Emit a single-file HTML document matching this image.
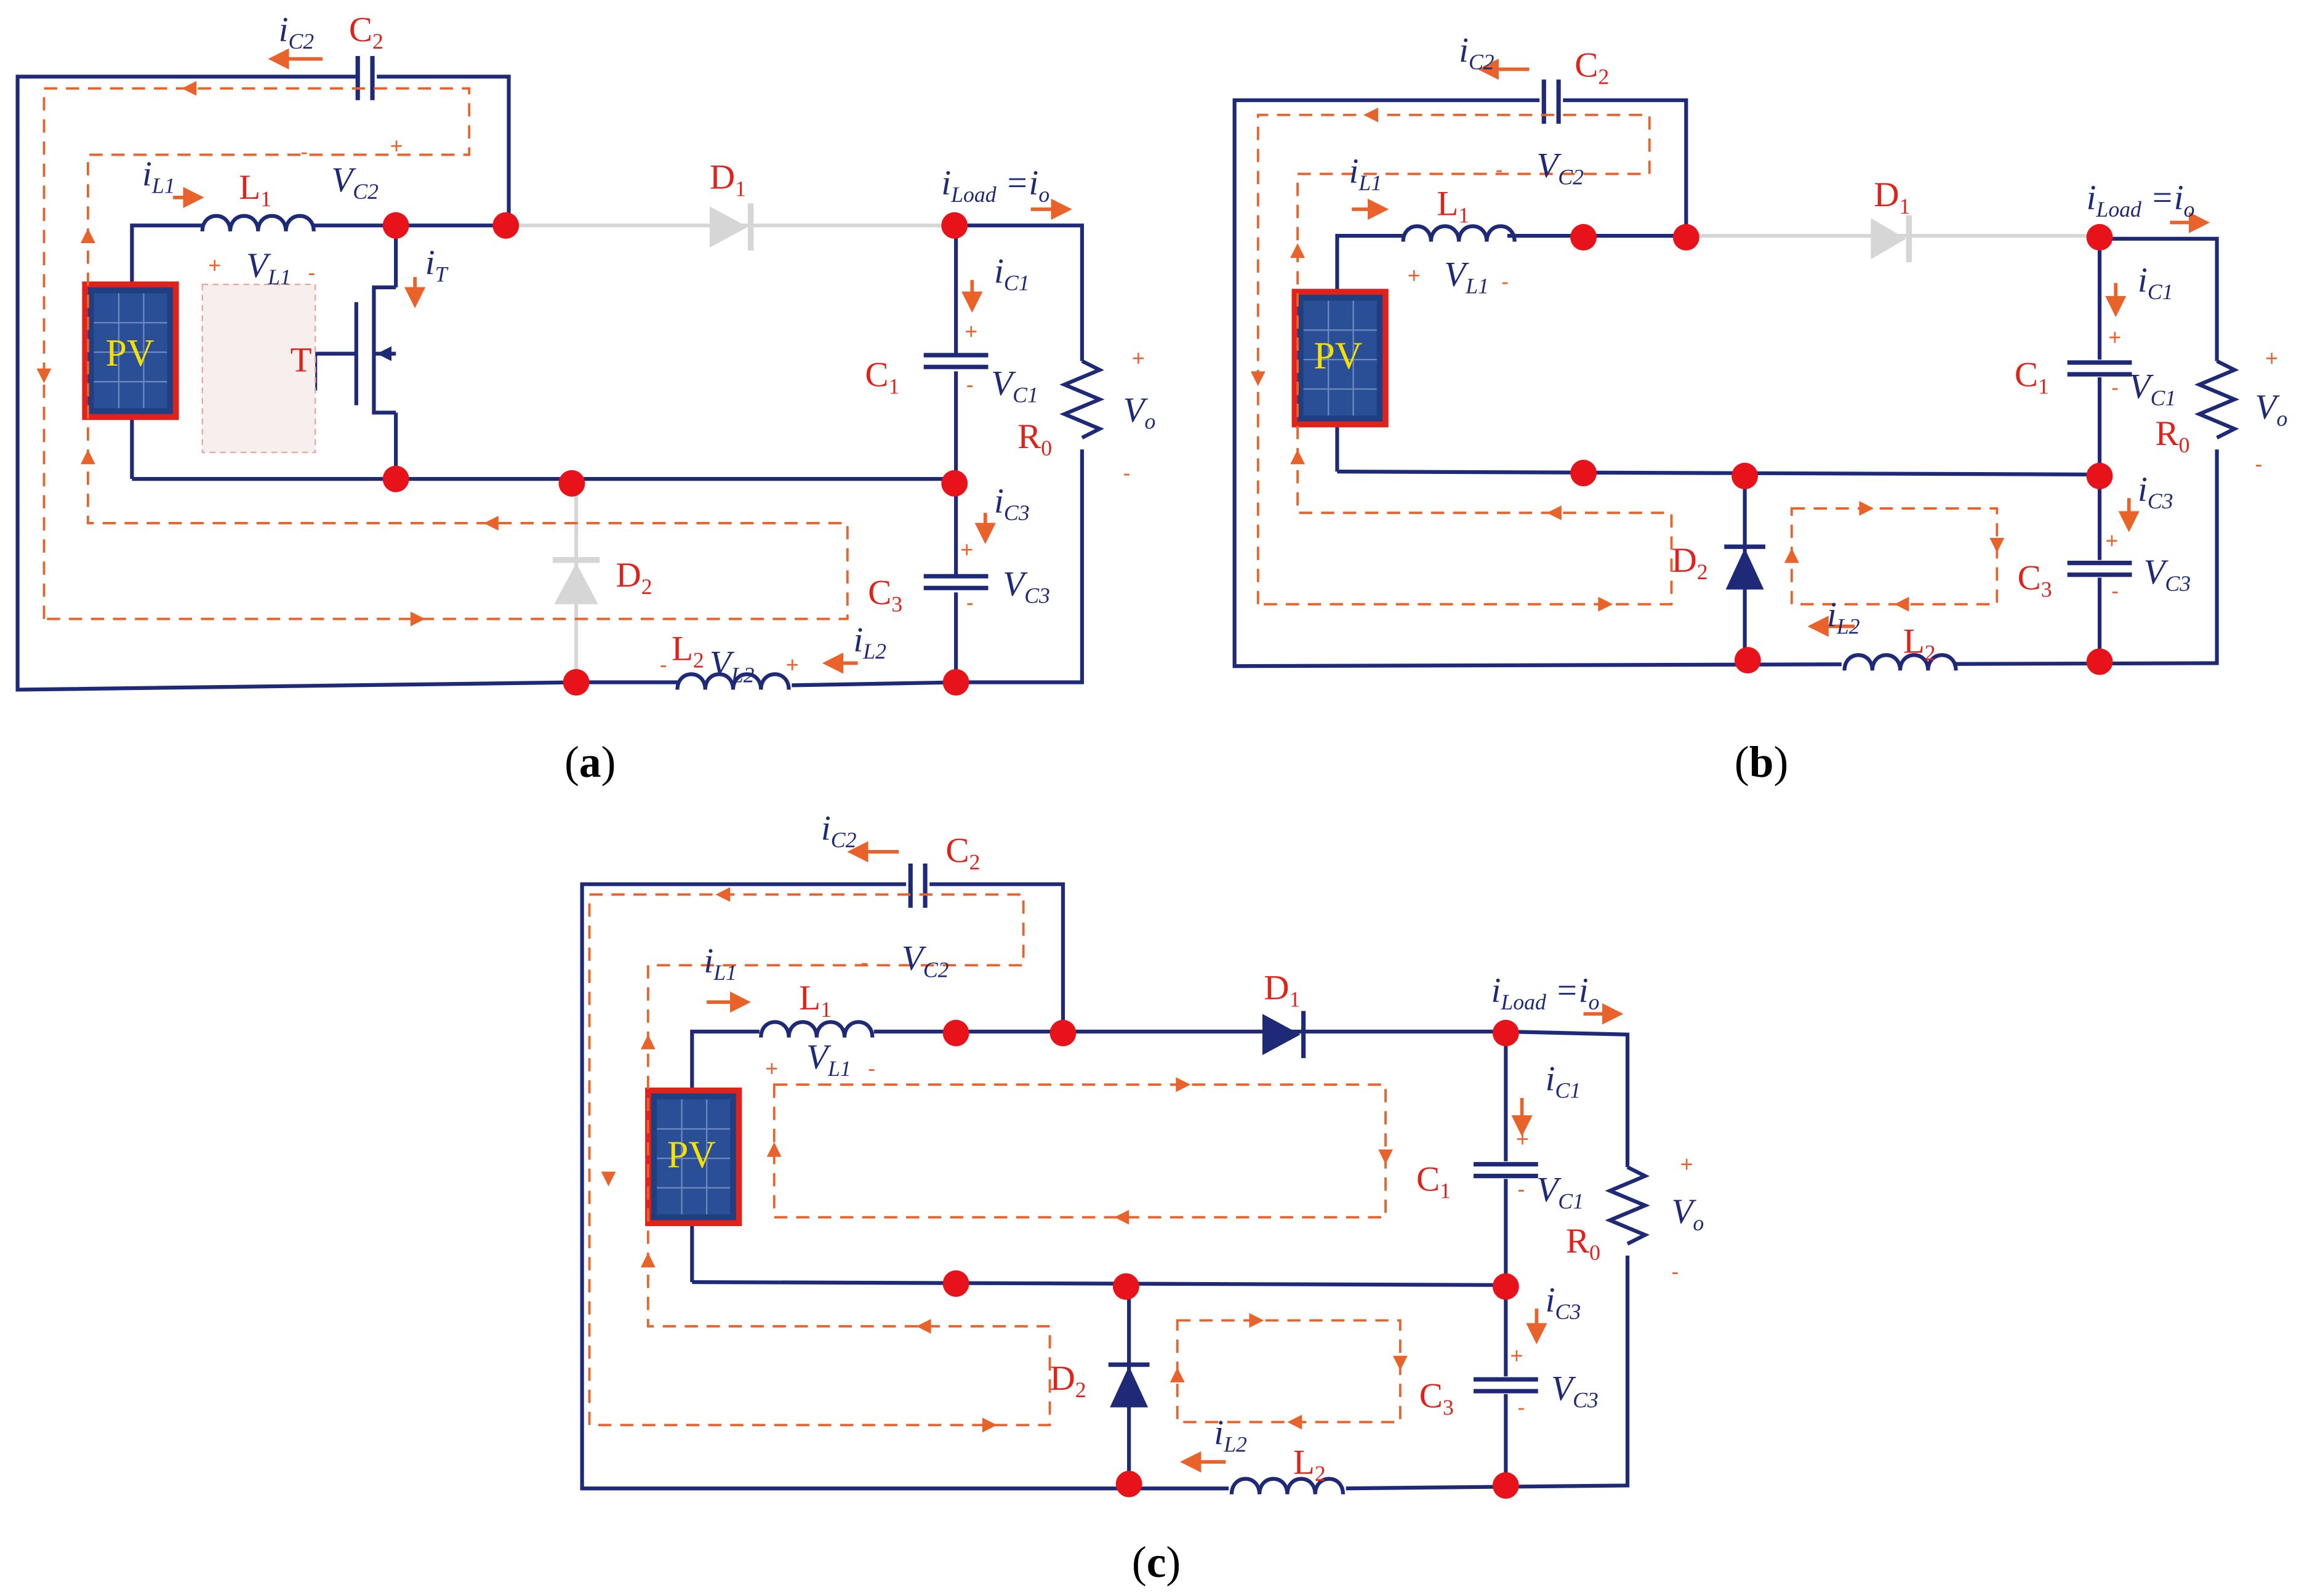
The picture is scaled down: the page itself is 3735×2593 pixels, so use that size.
<!DOCTYPE html>
<html><head><meta charset="utf-8"><style>
html,body{margin:0;padding:0;background:#fff}
svg{display:block}
.w{stroke:#1e2a78;stroke-width:2.6;fill:none}
.g{stroke:#d6d6d6;stroke-width:2.6;fill:none}
.d{stroke:#e8622a;stroke-width:1.6;fill:none;stroke-dasharray:9,6}
.oa{stroke:#e8622a;stroke-width:2.4;fill:none;marker-end:url(#mh)}
.r{fill:#e3211b;font-family:"Liberation Serif",serif;font-size:24px}
.v{fill:#1e2a78;font-family:"Liberation Serif",serif;font-size:24px;font-style:italic}
.s{fill:#e8622a;font-family:"Liberation Sans",sans-serif;font-size:15px}
.cap{fill:#000;font-family:"Liberation Serif",serif;font-size:30px}
</style></head><body>
<svg width="3735" height="2593" viewBox="0 0 1568 1083" preserveAspectRatio="none" xmlns="http://www.w3.org/2000/svg">
<defs>
<marker id="mh" markerWidth="6" markerHeight="6" refX="3" refY="3" orient="auto" markerUnits="strokeWidth"><path d="M0,0 L6,3 L0,6 z" fill="#e8622a"/></marker>
<g id="ind"><path d="M0,0 c0,-14 19,-14 19,0 c0,-14 19,-14 19,0 c0,-14 19,-14 19,0 c0,-14 19,-14 19,0" stroke="#1e2a78" stroke-width="2.6" fill="none"/></g>
<g id="capv"><line x1="-22" y1="-4" x2="22" y2="-4" stroke="#1e2a78" stroke-width="3"/><line x1="-22" y1="4" x2="22" y2="4" stroke="#1e2a78" stroke-width="3"/></g>
<g id="res"><path d="M0,-30 l12,6 l-24,10 l24,10 l-24,10 l24,10 l-12,6" stroke="#1e2a78" stroke-width="2.6" fill="none" transform="translate(0,-2)"/></g>
<g id="pv"><rect x="0" y="0" width="62" height="90" fill="#1f3f80" stroke="#e3211b" stroke-width="4"/><rect x="6" y="6" width="50" height="78" fill="#2a4f96"/><path d="M6,26 h50 M6,46 h50 M6,66 h50 M23,6 v78 M40,6 v78" stroke="#6b86c0" stroke-width="1"/></g>
<g id="dot"><circle r="9" fill="#e8131a"/></g>
<g id="arr"><path d="M0,0 l-10,-5 v10 z" fill="#e8622a"/></g>
</defs>

<!-- ===== (a) ===== -->
<path class="w" d="M347,153 V52 H12 V468 L393,463"/>
<path class="w" d="M540,465 L652,463 H738 V153 H652 M393,463 H462"/>
<path class="w" d="M90,325 V153 H138 M213,153 H347"/>
<path class="w" d="M90,325 H652 V153"/>
<path class="w" d="M270,153 V195 M270,280 V325"/>
<path class="w" d="M652,325 V463"/>
<path class="g" d="M347,153 H652"/>
<path class="g" d="M393,325 V463"/>
<polygon points="484,140 484,168 510,154" fill="#d6d6d6"/><line x1="512" y1="138" x2="512" y2="170" stroke="#d6d6d6" stroke-width="4"/>
<polygon points="378,410 408,410 393,382" fill="#d6d6d6"/><line x1="377" y1="380" x2="409" y2="380" stroke="#d6d6d6" stroke-width="4"/>
<use href="#ind" x="138" y="157"/>
<use href="#ind" x="462" y="468"/>
<rect x="243" y="40" width="14" height="24" fill="#fff"/><line x1="244" y1="38" x2="244" y2="68" stroke="#1e2a78" stroke-width="3"/><line x1="254" y1="38" x2="254" y2="68" stroke="#1e2a78" stroke-width="3"/>
<rect x="630" y="240" width="44" height="12" fill="#fff"/><use href="#capv" x="652" y="245"/>
<rect x="630" y="390" width="44" height="12" fill="#fff"/><use href="#capv" x="652" y="395"/>
<rect x="728" y="245" width="20" height="60" fill="#fff"/><use href="#res" x="738" y="277"/>
<path class="w" d="M270,195 H255 V280 H270 M255,240 H270 M243,205 V275 M243,240 H215 V265" />
<path d="M257,240 l10,-5 v10z" fill="#1e2a78"/>
<rect x="138" y="193" width="77" height="114" fill="#f7eeee" stroke="#e5a9a0" stroke-dasharray="4,3"/>
<use href="#pv" x="58" y="193"/>
<text x="72" y="248" fill="#f5e000" font-family="Liberation Serif,serif" font-size="26">PV</text>
<path class="d" d="M30,420 V60 H320 V105 H60 V355 H578 V420 Z"/>
<use href="#arr" x="290" y="420"/><use href="#arr" x="124" y="60" transform="rotate(180 124 60)"/><use href="#arr" x="330" y="355" transform="rotate(180 330 355)"/>
<use href="#arr" x="30" y="260" transform="rotate(90 30 260)"/><use href="#arr" x="60" y="155" transform="rotate(-90 60 155)"/><use href="#arr" x="60" y="305" transform="rotate(-90 60 305)"/>
<use href="#dot" x="270" y="153"/><use href="#dot" x="345" y="153"/><use href="#dot" x="651" y="153"/><use href="#dot" x="270" y="325"/><use href="#dot" x="390" y="328"/><use href="#dot" x="651" y="328"/><use href="#dot" x="393" y="463"/><use href="#dot" x="652" y="463"/>
<!-- current arrows a -->
<path class="oa" d="M220,40 H190"/><path class="oa" d="M118,134 H132"/><path class="oa" d="M283,188 V202"/><path class="oa" d="M663,190 V205"/><path class="oa" d="M672,348 V362"/><path class="oa" d="M585,450 H568"/><path class="oa" d="M703,142 H724"/>
<text class="s" x="142" y="185">+</text><text class="s" x="210" y="190">-</text><text class="s" x="266" y="104">+</text><text class="s" x="205" y="108">-</text>
<text class="s" x="658" y="230">+</text><text class="s" x="659" y="266">-</text><text class="s" x="772" y="248">+</text><text class="s" x="766" y="326">-</text>
<text class="s" x="655" y="378">+</text><text class="s" x="659" y="414">-</text><text class="s" x="450" y="456">-</text><text class="s" x="536" y="456">+</text>
<text class="v" x="190" y="28">i<tspan font-size="15" dy="5">C2</tspan></text><text class="r" x="238" y="28">C<tspan font-size="15" dy="5">2</tspan></text>
<text class="v" x="97" y="126">i<tspan font-size="15" dy="5">L1</tspan></text><text class="r" x="163" y="135">L<tspan font-size="15" dy="5">1</tspan></text>
<text class="v" x="226" y="130">V<tspan font-size="15" dy="5">C2</tspan></text>
<text class="v" x="168" y="188">V<tspan font-size="15" dy="5">L1</tspan></text>
<text class="v" x="290" y="186">i<tspan font-size="15" dy="5">T</tspan></text><text class="r" x="198" y="252">T</text>
<text class="r" x="484" y="128">D<tspan font-size="15" dy="5">1</tspan></text>
<text class="v" x="642" y="132">i<tspan font-size="15" dy="5">Load</tspan><tspan dy="-5"> =i</tspan><tspan font-size="15" dy="5">o</tspan></text>
<text class="v" x="678" y="192">i<tspan font-size="15" dy="5">C1</tspan></text>
<text class="r" x="590" y="262">C<tspan font-size="15" dy="5">1</tspan></text><text class="v" x="676" y="268">V<tspan font-size="15" dy="5">C1</tspan></text>
<text class="r" x="694" y="304">R<tspan font-size="15" dy="5">0</tspan></text><text class="v" x="766" y="286">V<tspan font-size="15" dy="5">o</tspan></text>
<text class="v" x="678" y="348">i<tspan font-size="15" dy="5">C3</tspan></text>
<text class="r" x="592" y="410">C<tspan font-size="15" dy="5">3</tspan></text><text class="v" x="684" y="404">V<tspan font-size="15" dy="5">C3</tspan></text>
<text class="r" x="420" y="398">D<tspan font-size="15" dy="5">2</tspan></text>
<text class="v" x="582" y="442">i<tspan font-size="15" dy="5">L2</tspan></text>
<text class="r" x="458" y="448">L<tspan font-size="15" dy="5">2</tspan></text><text class="v" x="484" y="458">V<tspan font-size="15" dy="5">L2</tspan></text>
<text class="cap" x="385" y="527">(<tspan font-weight="bold">a</tspan>)</text>

<!-- ===== (b) ===== -->
<path class="w" d="M1150,160 V68 H842 V452 L1512,450 V162 H1432"/>
<path class="w" d="M912,320 V160 H957 M1028,160 H1150"/>
<path class="w" d="M912,320 L1432,322 V160"/>
<path class="w" d="M1432,322 V450 M1190,322 V448"/>
<path class="g" d="M1150,160 H1432"/>
<polygon points="1276,148 1276,176 1300,162" fill="#d6d6d6"/><line x1="1302" y1="146" x2="1302" y2="178" stroke="#d6d6d6" stroke-width="4"/>
<polygon points="1177,400 1203,400 1190,372" fill="#1e2a78"/><line x1="1176" y1="371" x2="1204" y2="371" stroke="#1e2a78" stroke-width="3"/>
<rect x="1256" y="440" width="76" height="14" fill="#fff"/><use href="#ind" x="1258" y="455"/>
<rect x="957" y="150" width="71" height="14" fill="#fff"/><use href="#ind" x="957" y="164"/>
<rect x="1050" y="56" width="16" height="24" fill="#fff"/><line x1="1053" y1="54" x2="1053" y2="84" stroke="#1e2a78" stroke-width="3"/><line x1="1063" y1="54" x2="1063" y2="84" stroke="#1e2a78" stroke-width="3"/>
<rect x="1410" y="244" width="44" height="12" fill="#fff"/><use href="#capv" x="1432" y="250"/>
<rect x="1410" y="380" width="44" height="12" fill="#fff"/><use href="#capv" x="1432" y="386"/>
<rect x="1502" y="245" width="20" height="60" fill="#fff"/><use href="#res" x="1512" y="277"/>
<use href="#pv" x="883" y="198"/>
<text x="896" y="250" fill="#f5e000" font-family="Liberation Serif,serif" font-size="26">PV</text>
<path class="d" d="M858,410 V78 H1125 V118 H885 V348 H1140 V410 Z"/>
<path class="d" d="M1222,345 H1362 V410 H1222 Z"/>
<use href="#arr" x="1100" y="410"/><use href="#arr" x="930" y="78" transform="rotate(180 930 78)"/><use href="#arr" x="1055" y="348" transform="rotate(180 1055 348)"/>
<use href="#arr" x="858" y="262" transform="rotate(90 858 262)"/><use href="#arr" x="885" y="165" transform="rotate(-90 885 165)"/><use href="#arr" x="885" y="305" transform="rotate(-90 885 305)"/>
<use href="#arr" x="1278" y="345"/><use href="#arr" x="1362" y="375" transform="rotate(90 1362 375)"/><use href="#arr" x="1292" y="410" transform="rotate(180 1292 410)"/><use href="#arr" x="1222" y="372" transform="rotate(-90 1222 372)"/>
<use href="#dot" x="1080" y="161"/><use href="#dot" x="1150" y="161"/><use href="#dot" x="1432" y="161"/><use href="#dot" x="1080" y="321"/><use href="#dot" x="1190" y="323"/><use href="#dot" x="1432" y="323"/><use href="#dot" x="1192" y="448"/><use href="#dot" x="1432" y="449"/>
<path class="oa" d="M1043,47 H1015"/><path class="oa" d="M922,142 H940"/><path class="oa" d="M1443,192 V208"/><path class="oa" d="M1452,338 V354"/><path class="oa" d="M1265,425 H1240"/><path class="oa" d="M1480,151 H1500"/>
<text class="s" x="960" y="192">+</text><text class="s" x="1024" y="196">-</text><text class="s" x="1020" y="120">-</text>
<text class="s" x="1438" y="234">+</text><text class="s" x="1440" y="268">-</text><text class="s" x="1545" y="248">+</text><text class="s" x="1538" y="320">-</text>
<text class="s" x="1436" y="372">+</text><text class="s" x="1440" y="406">-</text>
<text class="v" x="995" y="42">i<tspan font-size="15" dy="5">C2</tspan></text><text class="r" x="1074" y="52">C<tspan font-size="15" dy="5">2</tspan></text>
<text class="v" x="1048" y="120">V<tspan font-size="15" dy="5">C2</tspan></text>
<text class="v" x="920" y="124">i<tspan font-size="15" dy="5">L1</tspan></text><text class="r" x="980" y="146">L<tspan font-size="15" dy="5">1</tspan></text>
<text class="v" x="985" y="194">V<tspan font-size="15" dy="5">L1</tspan></text>
<text class="r" x="1278" y="140">D<tspan font-size="15" dy="5">1</tspan></text>
<text class="v" x="1423" y="142">i<tspan font-size="15" dy="5">Load</tspan><tspan dy="-5"> =i</tspan><tspan font-size="15" dy="5">o</tspan></text>
<text class="v" x="1458" y="198">i<tspan font-size="15" dy="5">C1</tspan></text>
<text class="r" x="1374" y="262">C<tspan font-size="15" dy="5">1</tspan></text><text class="v" x="1452" y="270">V<tspan font-size="15" dy="5">C1</tspan></text>
<text class="r" x="1470" y="302">R<tspan font-size="15" dy="5">0</tspan></text><text class="v" x="1538" y="284">V<tspan font-size="15" dy="5">o</tspan></text>
<text class="v" x="1458" y="340">i<tspan font-size="15" dy="5">C3</tspan></text>
<text class="r" x="1376" y="400">C<tspan font-size="15" dy="5">3</tspan></text><text class="v" x="1462" y="396">V<tspan font-size="15" dy="5">C3</tspan></text>
<text class="r" x="1140" y="388">D<tspan font-size="15" dy="5">2</tspan></text>
<text class="v" x="1246" y="425">i<tspan font-size="15" dy="5">L2</tspan></text><text class="r" x="1298" y="443">L<tspan font-size="15" dy="5">2</tspan></text>
<text class="cap" x="1183" y="527">(<tspan font-weight="bold">b</tspan>)</text>

<!-- ===== (c) ===== -->
<path class="w" d="M725,700 V600 H397 V1010 L840,1010 M915,1010 L1110,1008 V702 L1027,700"/>
<path class="w" d="M472,870 V700 H518 M596,700 H1027"/>
<path class="w" d="M472,870 L1027,872 V700 M1027,872 V1008 M770,872 V1008"/>
<polygon points="861,688 861,716 887,702" fill="#1e2a78"/><line x1="889" y1="686" x2="889" y2="718" stroke="#1e2a78" stroke-width="3"/>
<polygon points="757,955 783,955 770,927" fill="#1e2a78"/><line x1="756" y1="926" x2="784" y2="926" stroke="#1e2a78" stroke-width="3"/>
<rect x="518" y="690" width="78" height="14" fill="#fff"/><use href="#ind" x="519" y="704"/>
<rect x="838" y="1000" width="80" height="14" fill="#fff"/><use href="#ind" x="840" y="1014"/>
<rect x="618" y="588" width="16" height="24" fill="#fff"/><line x1="621" y1="586" x2="621" y2="616" stroke="#1e2a78" stroke-width="3"/><line x1="631" y1="586" x2="631" y2="616" stroke="#1e2a78" stroke-width="3"/>
<rect x="1005" y="788" width="44" height="12" fill="#fff"/><use href="#capv" x="1027" y="794"/>
<rect x="1005" y="934" width="44" height="12" fill="#fff"/><use href="#capv" x="1027" y="940"/>
<rect x="1100" y="792" width="20" height="60" fill="#fff"/><use href="#res" x="1110" y="824"/>
<use href="#pv" x="442" y="740"/>
<text x="455" y="792" fill="#f5e000" font-family="Liberation Serif,serif" font-size="26">PV</text>
<path class="d" d="M402,967 V607 H698 V655 H442 V900 H716 V967 Z"/>
<path class="d" d="M528,736 H945 V826 H528 Z"/>
<path class="d" d="M803,896 H955 V965 H803 Z"/>
<use href="#arr" x="680" y="967"/><use href="#arr" x="488" y="607" transform="rotate(180 488 607)"/><use href="#arr" x="625" y="900" transform="rotate(180 625 900)"/>
<use href="#arr" x="415" y="805" transform="rotate(90 415 805)"/><use href="#arr" x="442" y="702" transform="rotate(-90 442 702)"/><use href="#arr" x="442" y="850" transform="rotate(-90 442 850)"/>
<use href="#arr" x="812" y="736"/><use href="#arr" x="945" y="790" transform="rotate(90 945 790)"/><use href="#arr" x="760" y="826" transform="rotate(180 760 826)"/><use href="#arr" x="528" y="775" transform="rotate(-90 528 775)"/>
<use href="#arr" x="862" y="896"/><use href="#arr" x="955" y="930" transform="rotate(90 955 930)"/><use href="#arr" x="878" y="965" transform="rotate(180 878 965)"/><use href="#arr" x="803" y="928" transform="rotate(-90 803 928)"/>
<use href="#dot" x="652" y="701"/><use href="#dot" x="725" y="701"/><use href="#dot" x="1027" y="701"/><use href="#dot" x="652" y="871"/><use href="#dot" x="768" y="873"/><use href="#dot" x="1027" y="873"/><use href="#dot" x="770" y="1007"/><use href="#dot" x="1027" y="1008"/>
<path class="oa" d="M613,578 H585"/><path class="oa" d="M482,680 H505"/><path class="oa" d="M1038,745 V764"/><path class="oa" d="M1048,888 V905"/><path class="oa" d="M836,992 H812"/><path class="oa" d="M1080,688 H1100"/>
<text class="s" x="522" y="730">+</text><text class="s" x="592" y="730">-</text><text class="s" x="587" y="658">-</text>
<text class="s" x="1034" y="778">+</text><text class="s" x="1035" y="812">-</text><text class="s" x="1146" y="795">+</text><text class="s" x="1140" y="868">-</text>
<text class="s" x="1030" y="925">+</text><text class="s" x="1035" y="960">-</text>
<text class="v" x="560" y="570">i<tspan font-size="15" dy="5">C2</tspan></text><text class="r" x="645" y="585">C<tspan font-size="15" dy="5">2</tspan></text>
<text class="v" x="615" y="658">V<tspan font-size="15" dy="5">C2</tspan></text>
<text class="v" x="480" y="660">i<tspan font-size="15" dy="5">L1</tspan></text><text class="r" x="545" y="685">L<tspan font-size="15" dy="5">1</tspan></text>
<text class="v" x="550" y="725">V<tspan font-size="15" dy="5">L1</tspan></text>
<text class="r" x="862" y="678">D<tspan font-size="15" dy="5">1</tspan></text>
<text class="v" x="1017" y="680">i<tspan font-size="15" dy="5">Load</tspan><tspan dy="-5"> =i</tspan><tspan font-size="15" dy="5">o</tspan></text>
<text class="v" x="1054" y="740">i<tspan font-size="15" dy="5">C1</tspan></text>
<text class="r" x="966" y="808">C<tspan font-size="15" dy="5">1</tspan></text><text class="v" x="1048" y="815">V<tspan font-size="15" dy="5">C1</tspan></text>
<text class="r" x="1068" y="850">R<tspan font-size="15" dy="5">0</tspan></text><text class="v" x="1140" y="830">V<tspan font-size="15" dy="5">o</tspan></text>
<text class="v" x="1054" y="890">i<tspan font-size="15" dy="5">C3</tspan></text>
<text class="r" x="968" y="955">C<tspan font-size="15" dy="5">3</tspan></text><text class="v" x="1058" y="950">V<tspan font-size="15" dy="5">C3</tspan></text>
<text class="r" x="716" y="943">D<tspan font-size="15" dy="5">2</tspan></text>
<text class="v" x="828" y="980">i<tspan font-size="15" dy="5">L2</tspan></text><text class="r" x="882" y="1000">L<tspan font-size="15" dy="5">2</tspan></text>
<text class="cap" x="772" y="1070">(<tspan font-weight="bold">c</tspan>)</text>
</svg>
</body></html>
